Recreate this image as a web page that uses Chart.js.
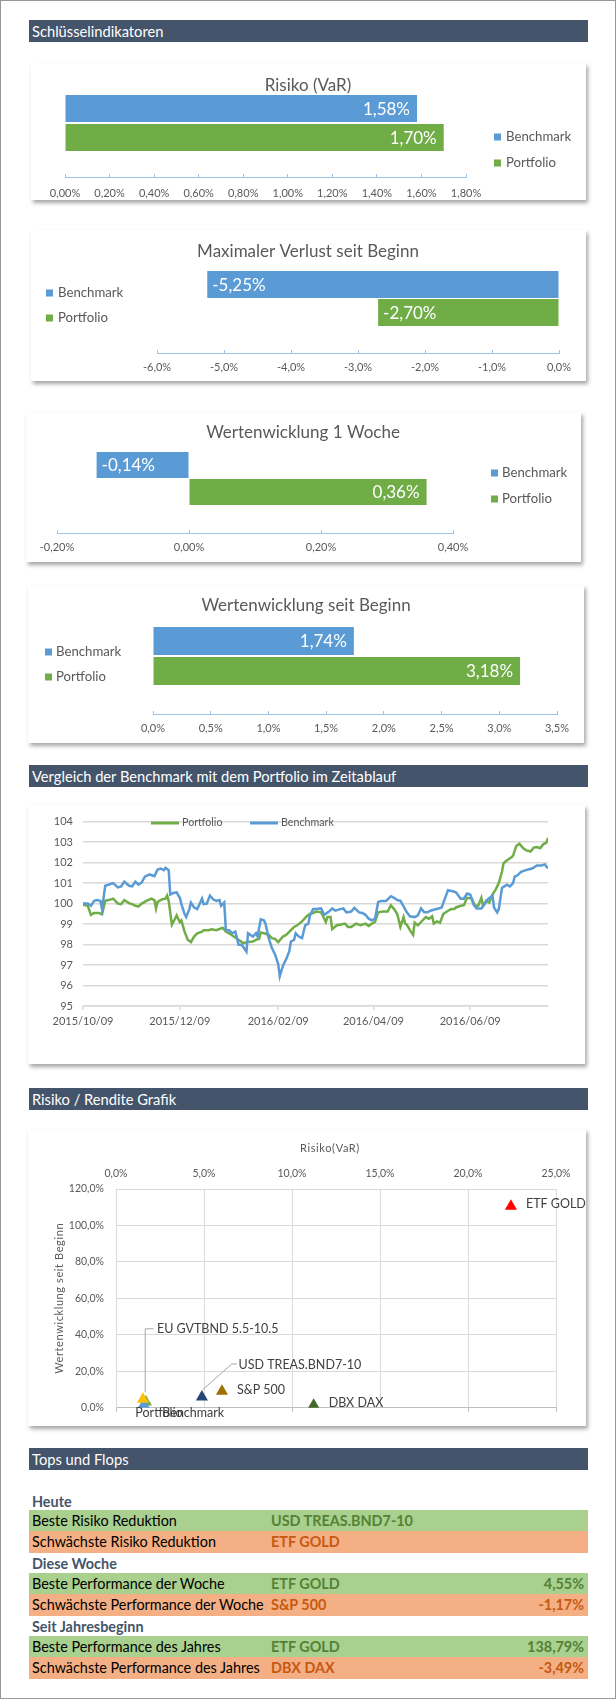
<!DOCTYPE html>
<html><head><meta charset="utf-8">
<script src="https://cdn.jsdelivr.net/npm/chart.js@4.4.1/dist/chart.umd.min.js"></script>
<style>
html,body{margin:0;padding:0;background:#fff;}
body{width:616px;height:1700px;position:relative;font-family:Lato,'Open Sans',sans-serif;overflow:hidden;}
#frame{position:absolute;left:0;top:0;width:616px;height:1699px;box-sizing:border-box;border:1px solid #979797;}
.hdr{position:absolute;left:29px;width:559px;height:22px;background:#44546A;color:#fff;font-size:14.7px;line-height:22px;padding-left:3px;box-sizing:border-box;white-space:nowrap;}
.box{position:absolute;background:#fff;box-shadow:2px 3px 4px rgba(0,0,0,0.35);}
.box canvas{position:absolute;left:0;top:0;}
.grp{position:absolute;left:32px;font-weight:bold;color:#44546A;font-size:14.4px;line-height:20px;}
.row{position:absolute;left:29px;width:559px;font-size:14.4px;color:#000;}
.row span{position:absolute;top:0;white-space:nowrap;}
.row .c1{left:3px;}
.row .c2{left:242px;font-weight:bold;}
.row .c3{right:4px;font-weight:bold;}
.good{background:#A9D08E;height:21px;line-height:21px;}
.good .c2,.good .c3{color:#548235;}
.bad{background:#F4B084;height:22px;line-height:22px;}
.bad .c2,.bad .c3{color:#C65911;}
</style>
</head>
<body>
<div id="frame"></div>

<div class="hdr" style="top:20px">Schlüsselindikatoren</div>
<div class="box" style="left:31px;top:63px;width:555px;height:137px"><canvas id="c1" width="555" height="137" style="width:555px;height:137px"></canvas></div>
<div class="box" style="left:31px;top:230px;width:555px;height:151px"><canvas id="c2" width="555" height="151" style="width:555px;height:151px"></canvas></div>
<div class="box" style="left:26px;top:412px;width:555px;height:150px"><canvas id="c3" width="555" height="150" style="width:555px;height:150px"></canvas></div>
<div class="box" style="left:28px;top:585px;width:556px;height:158px"><canvas id="c4" width="556" height="158" style="width:556px;height:158px"></canvas></div>

<div class="hdr" style="top:765px">Vergleich der Benchmark mit dem Portfolio im Zeitablauf</div>
<div class="box" style="left:28px;top:805px;width:557px;height:259px"><canvas id="c5" width="557" height="259" style="width:557px;height:259px"></canvas></div>

<div class="hdr" style="top:1088px">Risiko / Rendite Grafik</div>
<div class="box" style="left:28px;top:1129px;width:558px;height:297px"><canvas id="c6" width="558" height="297" style="width:558px;height:297px"></canvas></div>

<div class="hdr" style="top:1448px">Tops und Flops</div>
<div class="grp" style="top:1492px">Heute</div>
<div class="row good" style="top:1510px"><span class="c1">Beste Risiko Reduktion</span><span class="c2">USD TREAS.BND7-10</span></div>
<div class="row bad" style="top:1531px"><span class="c1">Schwächste Risiko Reduktion</span><span class="c2">ETF GOLD</span></div>
<div class="grp" style="top:1554px">Diese Woche</div>
<div class="row good" style="top:1573px"><span class="c1">Beste Performance der Woche</span><span class="c2">ETF GOLD</span><span class="c3">4,55%</span></div>
<div class="row bad" style="top:1594px"><span class="c1">Schwächste Performance der Woche</span><span class="c2">S&amp;P 500</span><span class="c3">-1,17%</span></div>
<div class="grp" style="top:1617px">Seit Jahresbeginn</div>
<div class="row good" style="top:1636px"><span class="c1">Beste Performance des Jahres</span><span class="c2">ETF GOLD</span><span class="c3">138,79%</span></div>
<div class="row bad" style="top:1657px"><span class="c1">Schwächste Performance des Jahres</span><span class="c2">DBX DAX</span><span class="c3">-3,49%</span></div>

<script>
// ---------------- DATA ----------------
const seriesNames = ['Benchmark', 'Portfolio'];
const varValues = [1.58, 1.70];
const maxLossValues = [-5.25, -2.70];
const week1Values = [-0.14, 0.36];
const sinceStartValues = [1.74, 3.18];

const varTicks = [0, 0.2, 0.4, 0.6, 0.8, 1.0, 1.2, 1.4, 1.6, 1.8];
const maxLossTicks = [-6, -5, -4, -3, -2, -1, 0];
const week1Ticks = [-0.2, 0, 0.2, 0.4];
const sinceStartTicks = [0, 0.5, 1.0, 1.5, 2.0, 2.5, 3.0, 3.5];

const startDate = '2015/10/09';
const xTickLabels = ['2015/10/09', '2015/12/09', '2016/02/09', '2016/04/09', '2016/06/09'];
const lineYTicks = [95, 96, 97, 98, 99, 100, 101, 102, 103, 104];
const lastDay = 293;

const portDays = [0,3,5,7,10,12,14,16,19,22,24,26,29,31,33,35,37,40,43,45,46,47,50,52,53,54,56,58,59,61,62,64,66,68,70,72,75,76,79,81,84,88,90,92,95,98,101,104,107,109,111,112,114,117,119,121,123,126,128,131,133,135,138,141,143,145,147,150,151,153,154,156,157,160,162,165,167,169,172,175,178,180,182,184,186,189,192,194,196,198,200,202,203,204,206,208,209,211,213,216,218,220,221,223,225,227,230,232,234,235,238,240,242,245,247,249,251,252,254,256,258,260,262,264,265,267,270,271,273,275,277,279,282,284,286,288,290,292,293];
const portValues = [99.94,99.89,99.45,99.54,99.54,99.48,100.13,100.17,100.24,100.00,99.97,100.17,100.02,99.97,99.89,99.86,100.00,100.13,100.24,100.17,99.76,100.08,100.21,100.24,100.39,100.13,98.97,99.26,99.42,99.10,99.18,98.63,98.23,98.12,98.39,98.55,98.63,98.70,98.70,98.74,98.70,98.82,98.63,98.55,98.39,98.23,98.07,98.12,98.15,98.23,98.28,98.59,98.55,98.47,98.31,98.28,98.12,98.39,98.47,98.70,98.86,98.94,99.13,99.38,99.49,99.54,99.61,99.57,99.42,99.10,99.34,99.34,98.75,98.94,98.97,99.02,98.86,98.86,99.02,98.94,99.02,98.91,99.02,99.10,99.57,99.61,99.61,99.92,99.73,99.49,98.86,99.34,99.02,98.97,98.70,98.47,99.07,98.94,99.10,99.34,99.26,99.38,99.02,99.13,99.07,99.49,99.65,99.73,99.73,99.81,99.89,99.92,100.28,100.24,99.89,99.89,100.28,99.89,100.13,100.05,100.44,100.68,101.00,101.55,101.97,102.10,102.26,102.34,102.81,102.92,102.73,102.61,102.54,102.73,102.76,102.70,102.89,102.97,103.21];

const benchDays = [0,3,5,7,9,11,12,14,16,19,22,24,26,29,31,33,35,37,39,42,45,47,49,51,52,54,55,57,59,61,62,64,65,67,68,70,72,75,76,78,80,82,84,86,87,89,90,92,94,96,98,100,103,104,107,109,110,112,114,115,117,119,121,123,124,126,128,130,131,133,134,136,138,140,142,143,145,147,150,152,155,157,159,162,164,166,169,171,174,176,178,180,182,184,186,188,191,194,196,198,200,202,204,206,209,211,213,215,217,219,221,224,226,228,230,233,235,238,240,242,244,246,248,251,253,255,258,259,261,262,264,267,269,271,272,274,276,279,283,286,289,291,293];
const benchValues = [100.00,100.00,99.89,100.13,100.17,100.13,99.73,100.87,100.92,101.00,100.79,100.84,101.07,100.87,100.84,101.07,100.92,101.03,101.31,101.42,101.34,101.66,101.71,101.63,101.75,101.63,100.44,100.52,100.55,100.28,99.97,99.49,99.34,99.73,100.05,99.81,99.73,100.24,99.97,100.00,100.39,100.21,100.13,100.17,99.89,100.05,98.70,98.70,98.55,98.63,97.99,97.99,97.65,98.55,98.39,98.55,98.39,99.23,99.18,99.02,98.31,97.84,97.52,97.05,96.45,96.97,97.28,97.68,98.15,98.23,98.55,98.39,98.31,98.94,99.02,99.42,99.73,99.73,99.76,99.45,99.61,99.76,99.65,99.73,99.76,99.57,99.61,99.79,99.57,99.54,99.45,99.26,99.18,99.26,100.08,100.13,100.13,100.36,100.28,100.17,100.13,99.86,99.57,99.38,99.34,99.42,99.76,99.57,99.57,99.65,99.70,99.76,99.81,100.24,100.65,100.60,100.55,100.24,100.24,100.49,100.44,99.97,99.76,99.76,99.97,100.21,100.39,99.81,99.57,99.73,100.76,100.92,100.84,101.00,101.31,101.39,101.55,101.63,101.71,101.86,101.86,101.91,101.71];

const assetNames = ['Portfolio', 'Benchmark', 'EU GVTBND 5.5-10.5', 'USD TREAS.BND7-10', 'S&P 500', 'DBX DAX', 'ETF GOLD'];
const riskVaR = [1.70, 1.58, 1.53, 4.88, 6.02, 11.23, 22.44];
const returnSinceStart = [3.18, 1.74, 4.6, 5.9, 9.0, 1.4, 110.5];
const riskTicks = [0, 5, 10, 15, 20, 25];
const returnTicks = [0, 20, 40, 60, 80, 100, 120];
const riskBottomTicks = [0, 10, 20, 25];
const riskAxisTitle = 'Risiko(VaR)';
const returnAxisTitle = 'Wertenwicklung seit Beginn';

// ---------------- HELPERS / STYLE ----------------
const FONT = "Lato, 'Open Sans', sans-serif";
Chart.defaults.font.family = FONT;
Chart.defaults.color = '#595959';
const BLUE = '#5B9BD5', GREEN = '#70AD47';
const seriesColors = [BLUE, GREEN];
const assetColors = [GREEN, BLUE, '#FFC000', '#264478', '#9E7000', '#43682B', '#FF0000'];

function fmtPct(v, d) { if (Math.abs(v) < 1e-9) v = 0; return v.toFixed(d).replace('.', ',') + '%'; }
function dayOffset(s) {
  const p = s.split('/').map(Number), q = startDate.split('/').map(Number);
  return Math.round((Date.UTC(p[0], p[1] - 1, p[2]) - Date.UTC(q[0], q[1] - 1, q[2])) / 86400000);
}
const setTicks = arr => s => { s.ticks = arr.map(v => ({ value: v })); };

const fixedTitle = {
  id: 'fixedTitle',
  afterDraw(chart, args, o) {
    if (!o || !o.text) return;
    const ctx = chart.ctx; ctx.save();
    ctx.font = (o.size || 17) + 'px ' + FONT; ctx.fillStyle = '#595959';
    ctx.textAlign = 'center'; ctx.textBaseline = 'middle';
    ctx.fillText(o.text, o.x, o.y); ctx.restore();
  }
};
const posLegend = {
  id: 'posLegend',
  afterDraw(chart, args, o) {
    if (!o || !o.pos) return;
    const ctx = chart.ctx; ctx.save();
    ctx.font = o.size + 'px ' + FONT; ctx.textBaseline = 'middle'; ctx.textAlign = 'left';
    o.pos.forEach(p => {
      const ds = chart.data.datasets[p.ds];
      if (o.line) {
        ctx.strokeStyle = ds.borderColor; ctx.lineWidth = 3;
        ctx.beginPath(); ctx.moveTo(p.x, p.y); ctx.lineTo(p.x + o.len, p.y); ctx.stroke();
        ctx.fillStyle = '#595959'; ctx.fillText(ds.label, p.x + o.len + o.gap, p.y);
      } else {
        ctx.fillStyle = ds.backgroundColor; ctx.fillRect(p.x, p.y - o.box / 2, o.box, o.box);
        ctx.fillStyle = '#595959'; ctx.fillText(ds.label, p.x + o.box + o.gap, p.y);
      }
    });
    ctx.restore();
  }
};
const barLabels = {
  id: 'barLabels',
  afterDatasetsDraw(chart, args, o) {
    if (!o || !o.show) return;
    const ctx = chart.ctx; ctx.save();
    ctx.font = '17px ' + FONT; ctx.fillStyle = '#fff'; ctx.textBaseline = 'middle';
    chart.data.datasets.forEach((ds, di) => {
      chart.getDatasetMeta(di).data.forEach((el, i) => {
        const v = ds.data[i];
        if (v >= 0) { ctx.textAlign = 'right'; ctx.fillText(fmtPct(v, 2), el.x - o.posInset, el.y + 1); }
        else { ctx.textAlign = 'left'; ctx.fillText(fmtPct(v, 2), el.x + o.negInset, el.y + 1); }
      });
    });
    ctx.restore();
  }
};
const pointLabels = {
  id: 'pointLabels',
  afterDatasetsDraw(chart, args, o) {
    if (!o || !o.items) return;
    const ctx = chart.ctx; ctx.save();
    ctx.font = '12.5px ' + FONT; ctx.textBaseline = 'middle'; ctx.textAlign = 'left';
    chart.data.datasets.forEach((ds, di) => {
      const el = chart.getDatasetMeta(di).data[0];
      const it = o.items[di];
      if (!el || !it) return;
      if (it.leader) {
        ctx.strokeStyle = '#A6A6A6'; ctx.lineWidth = 1; ctx.beginPath();
        it.leader.forEach((p, k) => { const X = el.x + p[0], Y = el.y + p[1]; k ? ctx.lineTo(X, Y) : ctx.moveTo(X, Y); });
        ctx.stroke();
      }
      ctx.fillStyle = '#404040';
      ctx.fillText(ds.label, el.x + it.dx, el.y + it.dy);
    });
    ctx.restore();
  }
};
const axisTitles = {
  id: 'axisTitles',
  afterDraw(chart, args, o) {
    if (!o || !o.x) return;
    const ctx = chart.ctx, a = chart.chartArea; ctx.save();
    ctx.font = o.size + 'px ' + FONT; ctx.fillStyle = '#595959';
    ctx.textAlign = 'center'; ctx.textBaseline = 'middle';
    try { ctx.letterSpacing = o.spacing + 'px'; } catch (e) {}
    ctx.fillText(o.x, (a.left + a.right) / 2 + o.xShift, o.xY);
    ctx.translate(o.yX, (a.top + a.bottom) / 2);
    ctx.rotate(-Math.PI / 2);
    ctx.fillText(o.y, 0, 0);
    ctx.restore();
  }
};
Chart.register(fixedTitle, posLegend, barLabels, pointLabels, axisTitles);

function barChart(id, values, ticks, dec, cfg) {
  return new Chart(document.getElementById(id), {
    type: 'bar',
    data: {
      labels: [''],
      datasets: seriesNames.map((n, i) => ({
        label: n, data: [values[i]], backgroundColor: seriesColors[i], borderWidth: 0,
        categoryPercentage: cfg.cat, barPercentage: cfg.bar
      }))
    },
    options: {
      indexAxis: 'y', responsive: false, animation: false, devicePixelRatio: 1,
      layout: { padding: cfg.pad },
      scales: {
        x: {
          type: 'linear', min: ticks[0], max: ticks[ticks.length - 1],
          afterBuildTicks: setTicks(ticks),
          afterFit: s => { s.height = cfg.axisH; },
          grid: { drawOnChartArea: false, drawTicks: true, tickLength: -3, color: '#9DC3E6', lineWidth: 1 },
          border: { display: true, color: '#9DC3E6', width: 1 },
          ticks: { padding: cfg.tickPad, color: '#595959', font: { size: 11 }, maxRotation: 0, autoSkip: false,
                   callback: v => fmtPct(v, dec) }
        },
        y: { display: false }
      },
      plugins: {
        legend: { display: false }, tooltip: { enabled: false },
        fixedTitle: cfg.title,
        posLegend: cfg.legend,
        barLabels: { show: true, posInset: 7, negInset: 5 }
      }
    }
  });
}

barChart('c1', varValues, varTicks, 2, {
  cat: 0.537, bar: 0.931, pad: { left: 34, right: 120, top: 6, bottom: 0 }, axisH: 23, tickPad: 12.4,
  title: { text: 'Risiko (VaR)', x: 277, y: 23 },
  legend: { size: 13.2, box: 7, gap: 5, pos: [{ ds: 0, x: 463, y: 74 }, { ds: 1, x: 463, y: 100 }] }
});
barChart('c2', maxLossValues, maxLossTicks, 1, {
  cat: 0.514, bar: 0.964, pad: { left: 126, right: 27, top: 14, bottom: 0 }, axisH: 28, tickPad: 10.4,
  title: { text: 'Maximaler Verlust seit Beginn', x: 277, y: 22 },
  legend: { size: 13.2, box: 7, gap: 5, pos: [{ ds: 0, x: 15, y: 63 }, { ds: 1, x: 15, y: 88 }] }
});
barChart('c3', week1Values, week1Ticks, 2, {
  cat: 0.495, bar: 0.963, pad: { left: 31, right: 128, top: 12, bottom: 0 }, axisH: 29, tickPad: 10.4,
  title: { text: 'Wertenwicklung 1 Woche', x: 277, y: 21 },
  legend: { size: 13.2, box: 7, gap: 4, pos: [{ ds: 0, x: 465, y: 61 }, { ds: 1, x: 465, y: 87 }] }
});
barChart('c4', sinceStartValues, sinceStartTicks, 1, {
  cat: 0.517, bar: 0.933, pad: { left: 125, right: 27, top: 13, bottom: 0 }, axisH: 29, tickPad: 10.4,
  title: { text: 'Wertenwicklung seit Beginn', x: 278, y: 21 },
  legend: { size: 13.2, box: 7, gap: 4, pos: [{ ds: 0, x: 17, y: 67 }, { ds: 1, x: 17, y: 92 }] }
});

// ---- Line chart ----
const xTickDays = xTickLabels.map(dayOffset);
new Chart(document.getElementById('c5'), {
  type: 'line',
  data: {
    datasets: [
      { label: 'Portfolio', data: portDays.map((d, i) => ({ x: d, y: portValues[i] })), borderColor: GREEN, backgroundColor: GREEN, borderWidth: 2.5, pointRadius: 0, tension: 0, order: 1 },
      { label: 'Benchmark', data: benchDays.map((d, i) => ({ x: d, y: benchValues[i] })), borderColor: BLUE, backgroundColor: BLUE, borderWidth: 2.5, pointRadius: 0, tension: 0, order: 0 }
    ]
  },
  options: {
    responsive: false, animation: false, devicePixelRatio: 1,
    layout: { padding: { left: 0, right: 37, top: 9, bottom: 0 } },
    scales: {
      x: {
        type: 'linear', min: 0, max: lastDay,
        afterBuildTicks: setTicks(xTickDays),
        afterFit: s => { s.height = 58; },
        grid: { drawOnChartArea: false, drawTicks: true, tickLength: 4, color: '#D9D9D9', lineWidth: 1.5 },
        border: { display: true, color: '#D9D9D9', width: 1.5 },
        ticks: { padding: 4.4, color: '#595959', font: { size: 11 }, maxRotation: 0, autoSkip: false,
                 callback: (v, i) => xTickLabels[i] }
      },
      y: {
        min: lineYTicks[0], max: lineYTicks[lineYTicks.length - 1],
        afterBuildTicks: setTicks(lineYTicks),
        afterFit: s => { s.width = 55; },
        grid: { color: '#D9D9D9', lineWidth: 1.5, drawTicks: false },
        border: { display: false },
        ticks: { padding: 10, color: '#595959', font: { size: 11 } }
      }
    },
    plugins: {
      legend: { display: false }, tooltip: { enabled: false },
      posLegend: { line: true, size: 10.7, len: 28, gap: 3, pos: [{ ds: 0, x: 123, y: 18 }, { ds: 1, x: 222, y: 18 }] }
    }
  }
});

// ---- Scatter ----
const drawOrder = [3, 2, 1, 0, 0, 0, 0];
const labelStyle = [
  { dx: -10.6, dy: 10.6 },
  { dx: 18.5, dy: 8 },
  { dx: 14, dy: -70, leader: [[2.3, -7.1], [2.3, -70.5], [10.6, -70.5]] },
  { dx: 36.6, dy: -32.4, leader: [[0.6, -7.1], [30, -33], [35, -33]] },
  { dx: 15, dy: -1.5 },
  { dx: 15, dy: -2 },
  { dx: 15, dy: -2 }
];
new Chart(document.getElementById('c6'), {
  type: 'scatter',
  data: {
    datasets: assetNames.map((n, i) => ({
      label: n, data: [{ x: riskVaR[i], y: returnSinceStart[i] }],
      pointStyle: 'triangle', pointRadius: 7, pointHoverRadius: 7,
      backgroundColor: assetColors[i], borderColor: assetColors[i], borderWidth: 0, order: drawOrder[i]
    }))
  },
  options: {
    responsive: false, animation: false, devicePixelRatio: 1,
    layout: { padding: { left: 0, right: 30, top: 0, bottom: 0 } },
    scales: {
      x: {
        type: 'linear', position: 'top', min: riskTicks[0], max: riskTicks[riskTicks.length - 1],
        afterBuildTicks: setTicks(riskTicks),
        afterFit: s => { s.height = 60; },
        grid: { color: '#D9D9D9', lineWidth: 1, drawTicks: false },
        border: { display: false },
        ticks: { padding: 8.7, color: '#595959', font: { size: 10.5 }, maxRotation: 0, callback: v => fmtPct(v, 1) }
      },
      x2: {
        type: 'linear', position: 'bottom', min: riskTicks[0], max: riskTicks[riskTicks.length - 1],
        afterBuildTicks: setTicks(riskBottomTicks),
        afterFit: s => { s.height = 14; },
        grid: { drawOnChartArea: false, drawTicks: true, tickLength: 4, color: '#BFBFBF' },
        border: { display: true, color: '#BFBFBF', width: 1 },
        ticks: { callback: () => '' }
      },
      y: {
        min: returnTicks[0], max: returnTicks[returnTicks.length - 1],
        afterBuildTicks: setTicks(returnTicks),
        afterFit: s => { s.width = 88; },
        grid: { color: '#D9D9D9', lineWidth: 1, drawTicks: false },
        border: { display: true, color: '#D9D9D9', width: 1 },
        ticks: { padding: 12, color: '#595959', font: { size: 10.5 }, callback: v => fmtPct(v, 1) }
      }
    },
    plugins: {
      legend: { display: false }, tooltip: { enabled: false },
      pointLabels: { items: labelStyle },
      axisTitles: { x: riskAxisTitle, y: returnAxisTitle, size: 11, spacing: 0.6, xShift: -6, xY: 19, yX: 31 }
    }
  }
});
</script>
</body></html>
